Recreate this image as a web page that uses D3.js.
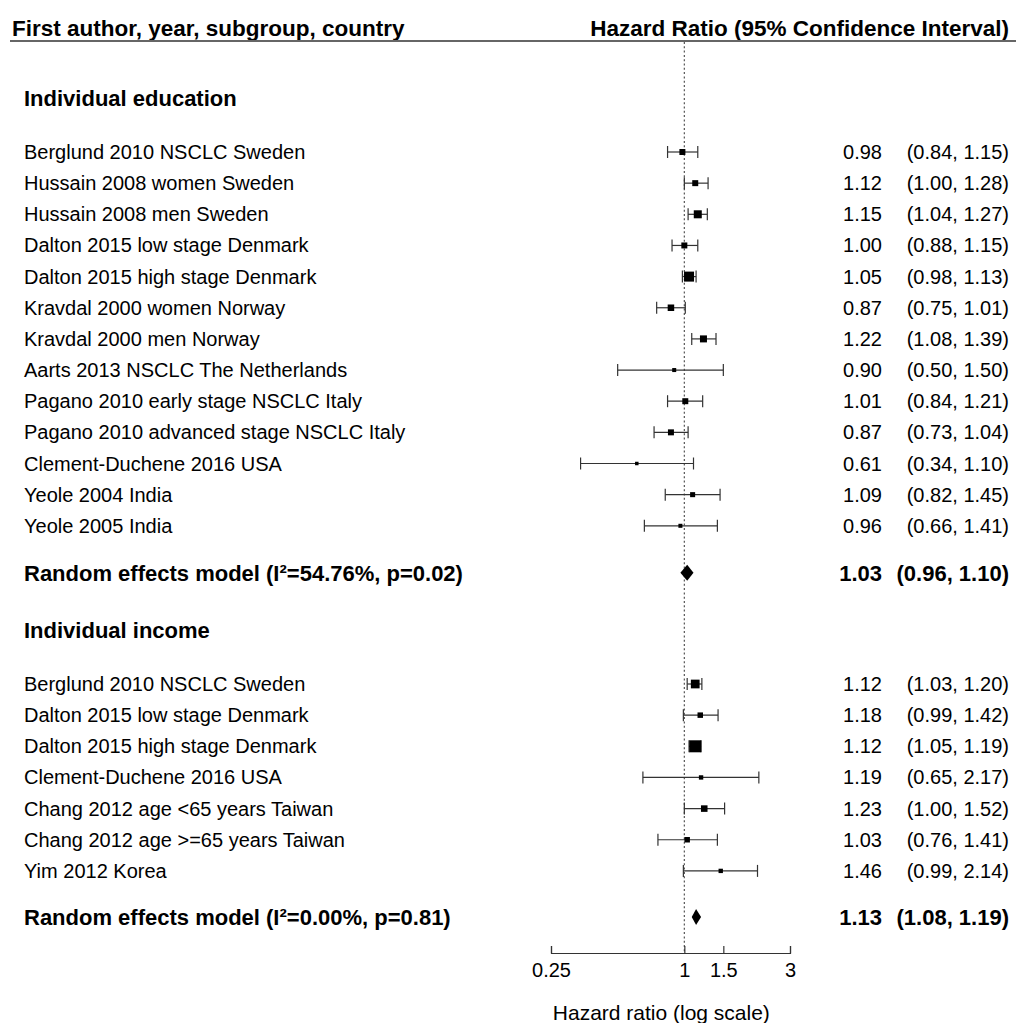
<!DOCTYPE html>
<html>
<head>
<meta charset="utf-8">
<script src="https://cdn.jsdelivr.net/npm/d3@7"></script>
<style>
  html, body { margin: 0; padding: 0; background: #fff; }
  svg { display: block; font-family: "Liberation Sans", Arial, sans-serif; }
  text { white-space: pre; }
</style>
</head>
<body>
<svg id="chart" width="1016" height="1023"></svg>
<script>
// ---- Individual education studies ----
const eduStudies = [
  "Berglund 2010 NSCLC Sweden",
  "Hussain 2008 women Sweden",
  "Hussain 2008 men Sweden",
  "Dalton 2015 low stage Denmark",
  "Dalton 2015 high stage Denmark",
  "Kravdal 2000 women Norway",
  "Kravdal 2000 men Norway",
  "Aarts 2013 NSCLC The Netherlands",
  "Pagano 2010 early stage NSCLC Italy",
  "Pagano 2010 advanced stage NSCLC Italy",
  "Clement-Duchene 2016 USA",
  "Yeole 2004 India",
  "Yeole 2005 India"
];
const eduHR    = [0.98, 1.12, 1.15, 1.00, 1.05, 0.87, 1.22, 0.90, 1.01, 0.87, 0.61, 1.09, 0.96];
const eduLower = [0.84, 1.00, 1.04, 0.88, 0.98, 0.75, 1.08, 0.50, 0.84, 0.73, 0.34, 0.82, 0.66];
const eduUpper = [1.15, 1.28, 1.27, 1.15, 1.13, 1.01, 1.39, 1.50, 1.21, 1.04, 1.10, 1.45, 1.41];
const eduWeight = [7.1, 7.1, 12.7, 7.1, 19.8, 8.4, 9.7, 3.2, 7.1, 7.1, 2.4, 5.0, 3.2];
const eduPooled = { label: "Random effects model (I\u00B2=54.76%, p=0.02)", hr: 1.03, lower: 0.96, upper: 1.10 };

// ---- Individual income studies ----
const incStudies = [
  "Berglund 2010 NSCLC Sweden",
  "Dalton 2015 low stage Denmark",
  "Dalton 2015 high stage Denmark",
  "Clement-Duchene 2016 USA",
  "Chang 2012 age <65 years Taiwan",
  "Chang 2012 age >=65 years Taiwan",
  "Yim 2012 Korea"
];
const incHR    = [1.12, 1.18, 1.12, 1.19, 1.23, 1.03, 1.46];
const incLower = [1.03, 0.99, 1.05, 0.65, 1.00, 0.76, 0.99];
const incUpper = [1.20, 1.42, 1.19, 2.17, 1.52, 1.41, 2.14];
const incWeight = [21.1, 8.3, 39.9, 5.3, 11.9, 8.3, 5.3];
const incPooled = { label: "Random effects model (I\u00B2=0.00%, p=0.81)", hr: 1.13, lower: 1.08, upper: 1.19 };

const sectionTitles = ["Individual education", "Individual income"];
const axisTicks = [0.25, 1, 1.5, 3];
const axisTickLabels = ["0.25", "1", "1.5", "3"];

// ---- layout ----
const svg = d3.select("#chart");
const fmt = d3.format(".2f");
const x = d3.scaleLog().domain([0.25, 3]).range([551, 790]);
const rowStep = 31.15;
const labelX = 24, hrX = 882, valueX = 1009;
const fontSize = 20, boldSize = 22, headerSize = 22.5;

const groups = [
  { title: sectionTitles[0], studies: eduStudies, hr: eduHR, lo: eduLower, hi: eduUpper, w: eduWeight, pooled: eduPooled,
    titleY: 98, firstRowY: 152, pooledGap: 47, maxSide: 10 },
  { title: sectionTitles[1], studies: incStudies, hr: incHR, lo: incLower, hi: incUpper, w: incWeight, pooled: incPooled,
    titleY: 630, firstRowY: 684, pooledGap: 46, maxSide: 12 }
];

// column headers
svg.append("text").attr("x", 12).attr("y", 28).attr("dy", "0.35em")
  .attr("font-size", headerSize).attr("font-weight", "bold").attr("fill", "#000")
  .text("First author, year, subgroup, country");
svg.append("text").attr("x", valueX).attr("y", 28).attr("dy", "0.35em")
  .attr("text-anchor", "end")
  .attr("font-size", headerSize).attr("font-weight", "bold").attr("fill", "#000")
  .text("Hazard Ratio (95% Confidence Interval)");
svg.append("line").attr("x1", 10).attr("x2", 1016).attr("y1", 41).attr("y2", 41)
  .attr("stroke", "#666").attr("stroke-width", 2);

const axisY = 953;

// reference line at HR = 1
svg.append("line").attr("x1", x(1)).attr("x2", x(1)).attr("y1", 42).attr("y2", axisY)
  .attr("stroke", "#555").attr("stroke-width", 1.2).attr("stroke-dasharray", "2,2.3");

groups.forEach(g => {
  svg.append("text").attr("x", labelX).attr("y", g.titleY).attr("dy", "0.35em")
    .attr("font-size", boldSize).attr("font-weight", "bold").text(g.title);

  const maxW = d3.max(g.w);
  const side = d3.scaleSqrt().domain([0, maxW]).range([0, g.maxSide]);
  const rows = g.studies.map((name, i) => ({
    name, hr: g.hr[i], lo: g.lo[i], hi: g.hi[i], w: g.w[i], y: g.firstRowY + i * rowStep
  }));

  const row = svg.append("g").selectAll("g").data(rows).join("g");
  row.append("text").attr("x", labelX).attr("y", d => d.y).attr("dy", "0.35em")
    .attr("font-size", fontSize).text(d => d.name);
  row.append("text").attr("x", hrX).attr("y", d => d.y).attr("dy", "0.35em")
    .attr("text-anchor", "end").attr("font-size", fontSize)
    .text(d => fmt(d.hr));
  row.append("text").attr("x", valueX).attr("y", d => d.y).attr("dy", "0.35em")
    .attr("text-anchor", "end").attr("font-size", fontSize)
    .text(d => `(${fmt(d.lo)}, ${fmt(d.hi)})`);
  row.append("line").attr("x1", d => x(d.lo)).attr("x2", d => x(d.hi))
    .attr("y1", d => d.y).attr("y2", d => d.y).attr("stroke", "#333").attr("stroke-width", 1.2);
  row.append("line").attr("x1", d => x(d.lo)).attr("x2", d => x(d.lo))
    .attr("y1", d => d.y - 6).attr("y2", d => d.y + 6).attr("stroke", "#333").attr("stroke-width", 1.2);
  row.append("line").attr("x1", d => x(d.hi)).attr("x2", d => x(d.hi))
    .attr("y1", d => d.y - 6).attr("y2", d => d.y + 6).attr("stroke", "#333").attr("stroke-width", 1.2);
  row.append("rect")
    .attr("x", d => x(d.hr) - side(d.w) / 2).attr("y", d => d.y - side(d.w) / 2)
    .attr("width", d => side(d.w)).attr("height", d => side(d.w)).attr("fill", "#000");

  // pooled estimate
  const py = rows[rows.length - 1].y + g.pooledGap;
  const p = g.pooled;
  svg.append("text").attr("x", labelX).attr("y", py).attr("dy", "0.35em")
    .attr("font-size", boldSize).attr("font-weight", "bold").text(p.label);
  svg.append("text").attr("x", hrX).attr("y", py).attr("dy", "0.35em")
    .attr("text-anchor", "end").attr("font-size", boldSize).attr("font-weight", "bold")
    .text(fmt(p.hr));
  svg.append("text").attr("x", valueX).attr("y", py).attr("dy", "0.35em")
    .attr("text-anchor", "end").attr("font-size", boldSize).attr("font-weight", "bold")
    .text(`(${fmt(p.lower)}, ${fmt(p.upper)})`);
  svg.append("path").attr("fill", "#000")
    .attr("d", `M${x(p.lower)},${py} L${x(p.hr)},${py - 8} L${x(p.upper)},${py} L${x(p.hr)},${py + 8} Z`);
});

// x axis
const axis = d3.axisBottom(x)
  .tickValues(axisTicks)
  .tickFormat((d, i) => axisTickLabels[i])
  .tickSize(-7).tickSizeOuter(-7).tickPadding(10);
const ag = svg.append("g").attr("transform", `translate(0,${axisY})`).call(axis);
ag.select(".domain").attr("stroke", "#333").attr("stroke-width", 1.2);
ag.selectAll(".tick line").attr("stroke", "#333").attr("stroke-width", 1.2);
ag.selectAll(".tick text").attr("font-size", fontSize).attr("fill", "#000")
  .attr("font-family", "'Liberation Sans', Arial, sans-serif");

svg.append("text").attr("x", x(1) - 23).attr("y", 1013).attr("dy", "0.35em")
  .attr("text-anchor", "middle").attr("font-size", 21).text("Hazard ratio (log scale)");
</script>
</body>
</html>
